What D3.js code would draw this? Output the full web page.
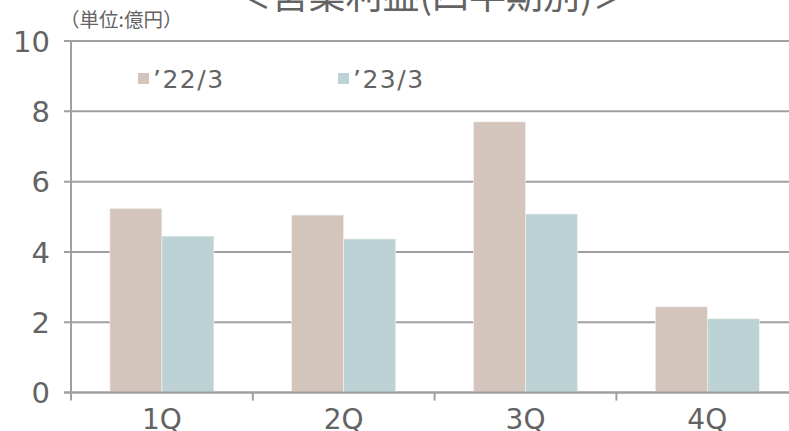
<!DOCTYPE html>
<html>
<head>
<meta charset="utf-8">
<script src="https://cdn.jsdelivr.net/npm/d3@7"></script>
<style>
  html, body { margin: 0; padding: 0; background: #fff; overflow: hidden; }
  svg { display: block; }
  text { font-family: "DejaVu Sans", "Noto Sans CJK JP", sans-serif; fill: #636363; }
  text.jp { font-family: "Noto Sans CJK JP", sans-serif; }
</style>
</head>
<body>
<figure id="bars" style="margin:0"></figure>
<script>
const quarters = ["1Q", "2Q", "3Q", "4Q"];
const seriesNames = ["'22/3", "'23/3"];
const fy22 = [5.24, 5.05, 7.70, 2.44];
const fy23 = [4.45, 4.37, 5.08, 2.10];
const yTicks = [0, 2, 4, 6, 8, 10];
const colors = ["#d4c5bc", "#bdd2d4"];

const w = 789, h = 431;
const plotLeft = 71, plotTop = 41, plotBottom = 392.6;

const svg = d3.select("figure#bars")
  .append("svg")
  .attr("width", w)
  .attr("height", h);

const y = d3.scaleLinear().domain([0, 10]).range([plotBottom, plotTop]);
const x = d3.scaleBand().domain(quarters).range([plotLeft, plotLeft + 4 * 181.8]);
const x1 = d3.scaleBand().domain(seriesNames).range([0, x.bandwidth()]).paddingOuter(0.748);

// gridlines + y tick marks
svg.append("g")
  .selectAll("line")
  .data(yTicks)
  .enter()
  .append("line")
  .attr("x1", plotLeft - 7)
  .attr("x2", w)
  .attr("y1", d => y(d))
  .attr("y2", d => y(d))
  .attr("stroke", "#a0a0a0")
  .attr("stroke-width", 2);

// y labels
svg.append("g")
  .selectAll("text")
  .data(yTicks)
  .enter()
  .append("text")
  .attr("x", 50)
  .attr("y", d => y(d) + 10.6)
  .attr("text-anchor", "end")
  .attr("font-size", "29px")
  .text(d => d);

// bars
const rows = quarters.map((q, i) => ({ q: q, vals: [fy22[i], fy23[i]] }));
svg.append("g")
  .selectAll("g")
  .data(rows)
  .enter()
  .append("g")
  .attr("transform", d => "translate(" + x(d.q) + ",0)")
  .selectAll("rect")
  .data(d => d.vals.map((v, j) => ({ s: seriesNames[j], v: v, j: j })))
  .enter()
  .append("rect")
  .attr("x", d => x1(d.s))
  .attr("width", x1.bandwidth())
  .attr("y", d => y(d.v))
  .attr("height", d => y(0) - y(d.v))
  .attr("fill", d => colors[d.j])
  .attr("stroke", "#f2f2f2")
  .attr("stroke-width", 0.6);

// y axis line
svg.append("line")
  .attr("x1", plotLeft).attr("x2", plotLeft)
  .attr("y1", plotTop - 1).attr("y2", plotBottom + 8)
  .attr("stroke", "#a0a0a0").attr("stroke-width", 2);

// x axis line
svg.append("line")
  .attr("x1", plotLeft - 7).attr("x2", w)
  .attr("y1", plotBottom).attr("y2", plotBottom)
  .attr("stroke", "#a0a0a0").attr("stroke-width", 2);

// x tick marks at band edges
svg.append("g")
  .selectAll("line")
  .data(quarters)
  .enter()
  .append("line")
  .attr("x1", d => x(d) + x.bandwidth())
  .attr("x2", d => x(d) + x.bandwidth())
  .attr("y1", plotBottom)
  .attr("y2", plotBottom + 8)
  .attr("stroke", "#a0a0a0")
  .attr("stroke-width", 2);

// x labels (bottom edge clips them slightly, as in the source)
svg.append("g")
  .selectAll("text")
  .data(quarters)
  .enter()
  .append("text")
  .attr("x", d => x(d) + x.bandwidth() / 2)
  .attr("y", 429)
  .attr("text-anchor", "middle")
  .attr("font-size", "28px")
  .text(d => d);

// legend
const legend = svg.append("g")
  .selectAll("g")
  .data(seriesNames)
  .enter()
  .append("g")
  .attr("transform", (d, i) => "translate(" + (138 + i * 200) + ",0)");
legend.append("rect")
  .attr("x", 0).attr("y", 73)
  .attr("width", 11).attr("height", 11)
  .attr("fill", (d, i) => colors[i]);
legend.append("text")
  .attr("x", 15).attr("y", 88)
  .attr("font-size", "25px")
  .attr("letter-spacing", "1.5px")
  .text(d => d.replace("'", "\u2019"));

// unit label
svg.append("text")
  .attr("class", "jp")
  .attr("x", 60).attr("y", 27)
  .attr("font-size", "19.5px")
  .text("（単位:億円）");

// title (cut off at top)
svg.append("text")
  .attr("class", "jp")
  .attr("x", 432).attr("y", 9)
  .attr("text-anchor", "middle")
  .attr("font-size", "37px")
  .text("＜営業利益(四半期別)＞");
</script>
</body>
</html>
